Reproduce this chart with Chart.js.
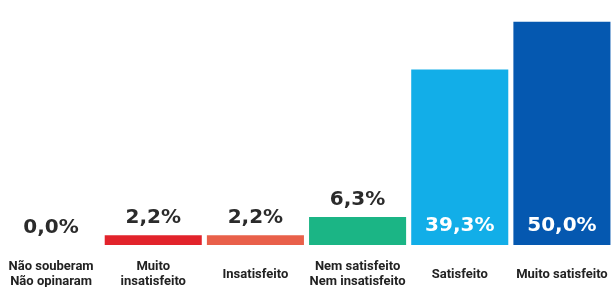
<!DOCTYPE html>
<html>
<head>
<meta charset="utf-8">
<script src="https://cdn.jsdelivr.net/npm/chart.js@4/dist/chart.umd.min.js"></script>
<style>
html,body{margin:0;padding:0;background:#fff;}
#wrap{width:613px;height:287px;position:relative;}
</style>
</head>
<body>
<div id="wrap"><canvas id="c"></canvas></div>
<script>
const categories = [
  ["Não souberam", "Não opinaram"],
  ["Muito", "insatisfeito"],
  "Insatisfeito",
  ["Nem satisfeito", "Nem insatisfeito"],
  "Satisfeito",
  "Muito satisfeito"
];
const values = [0.0, 2.2, 2.2, 6.3, 39.3, 50.0];
const valueLabels = ["0,0%", "2,2%", "2,2%", "6,3%", "39,3%", "50,0%"];
const barColors = ["#ffffff", "#e2232b", "#e9604a", "#1bb585", "#12aee8", "#0558b0"];

const valuePlugin = {
  id: 'valueLabels',
  afterDatasetsDraw(chart) {
    const ctx = chart.ctx;
    const meta = chart.getDatasetMeta(0);
    ctx.save();
    ctx.font = 'bold 20px "DejaVu Sans"';
    ctx.textAlign = 'center';
    ctx.textBaseline = 'middle';
    meta.data.forEach((bar, i) => {
      const v = values[i];
      if (v > 20) {
        ctx.fillStyle = '#ffffff';
        ctx.fillText(valueLabels[i], bar.x, bar.base - 19);
      } else {
        ctx.fillStyle = '#2b2b2b';
        ctx.fillText(valueLabels[i], bar.x, bar.y - 17);
      }
    });
    ctx.restore();
  }
};

new Chart(document.getElementById('c'), {
  type: 'bar',
  data: {
    labels: categories,
    datasets: [{
      data: values,
      backgroundColor: barColors,
      borderWidth: 0,
      categoryPercentage: 1.0,
      barPercentage: 0.95
    }]
  },
  options: {
    responsive: true,
    maintainAspectRatio: false,
    animation: false,
    devicePixelRatio: 1,
    layout: { padding: { left: -2, right: 0, top: 0, bottom: 0 } },
    plugins: { legend: { display: false }, tooltip: { enabled: false } },
    scales: {
      y: { display: false, min: 0, max: 54.9 },
      x: {
        grid: { display: false, drawTicks: false },
        border: { display: false },
        ticks: {
          color: '#222222',
          font: { family: 'Roboto, sans-serif', size: 13, weight: 'bold', lineHeight: 1.15 },
          padding: 22,
          crossAlign: 'center',
          maxRotation: 0,
          autoSkip: false
        },
        afterFit(scale) { scale.height = 42; scale.paddingLeft = 0; scale.paddingRight = 0; }
      }
    }
  },
  plugins: [valuePlugin]
});
</script>
</body>
</html>
